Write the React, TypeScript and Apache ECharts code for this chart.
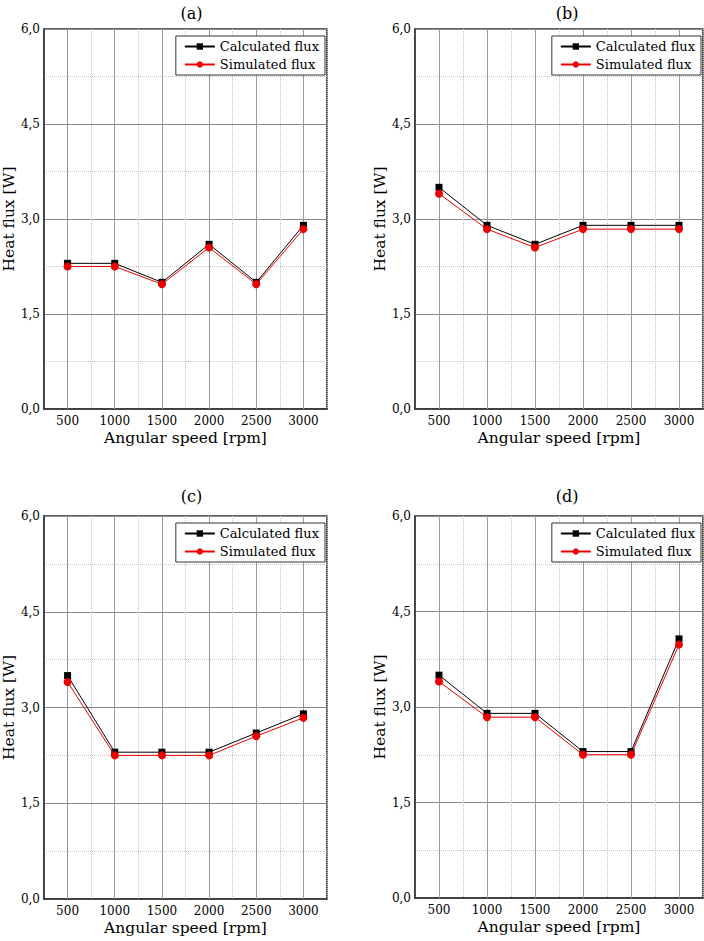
import React, { useEffect, useRef } from "react";
import * as echarts from "echarts";

const speeds = ["500", "1000", "1500", "2000", "2500", "3000"];
const panelTitles = ["(a)", "(b)", "(c)", "(d)"];

const calcA = [2.3, 2.3, 2.0, 2.6, 2.0, 2.9];
const simA = [2.25, 2.25, 1.97, 2.55, 1.97, 2.84];
const calcB = [3.5, 2.9, 2.6, 2.9, 2.9, 2.9];
const simB = [3.4, 2.84, 2.55, 2.84, 2.84, 2.84];
const calcC = [3.5, 2.3, 2.3, 2.3, 2.6, 2.9];
const simC = [3.4, 2.25, 2.25, 2.25, 2.55, 2.84];
const calcD = [3.5, 2.9, 2.9, 2.3, 2.3, 4.07];
const simD = [3.4, 2.84, 2.84, 2.25, 2.25, 3.98];

const calcSets = [calcA, calcB, calcC, calcD];
const simSets = [simA, simB, simC, simD];

const FONT = "DejaVu Serif";

const grids = [
  { left: 40, top: 29, width: 287, height: 380 },
  { left: 415, top: 29, width: 288, height: 380 },
  { left: 40, top: 516, width: 287, height: 383 },
  { left: 415, top: 516, width: 288, height: 382 },
];
const titleTops = [0, 0, 483, 483];

export default function App() {
  const ref = useRef<HTMLDivElement>(null);
  useEffect(() => {
    if (!ref.current) return;
    const chart = echarts.init(ref.current, null, { renderer: "svg" });
    const xAxis: any[] = [];
    const yAxis: any[] = [];
    const series: any[] = [];
    const legend: any[] = [];
    const title: any[] = [];
    grids.forEach((g, i) => {
      xAxis.push({
        type: "category",
        gridIndex: i,
        data: speeds,
        boundaryGap: true,
        axisLine: { show: true, lineStyle: { color: "#333", width: 1.5 } },
        axisTick: { show: false },
        axisLabel: { fontFamily: FONT, fontSize: 12, color: "#000", margin: 6 },
        splitLine: { show: true, lineStyle: { color: "#c4c4c4", type: "dotted", width: 1 } },
        name: "Angular speed [rpm]",
        nameLocation: "middle",
        nameGap: 21,
        nameTextStyle: { fontFamily: FONT, fontSize: 15.5, color: "#000" },
      });
      yAxis.push({
        type: "value",
        gridIndex: i,
        min: 0,
        max: 6,
        interval: 1.5,
        axisLine: { show: true, lineStyle: { color: "#333", width: 1.5 } },
        axisTick: { show: false },
        axisLabel: {
          fontFamily: FONT,
          fontSize: 12,
          color: "#000",
          margin: 4,
          formatter: (v: number) => v.toFixed(1).replace(".", ","),
        },
        splitLine: { show: true, lineStyle: { color: "#8a8a8a", width: 1 } },
        minorTick: { show: false, splitNumber: 2 },
        minorSplitLine: { show: true, lineStyle: { color: "#c4c4c4", type: "dotted", width: 1 } },
        name: "Heat flux [W]",
        nameLocation: "middle",
        nameGap: 20,
        nameTextStyle: { fontFamily: FONT, fontSize: 15.5, color: "#000" },
      });
      series.push({
        name: "Calculated flux",
        type: "line",
        xAxisIndex: i,
        yAxisIndex: i,
        data: calcSets[i],
        symbol: "rect",
        symbolSize: 7,
        itemStyle: { color: "#000" },
        lineStyle: { color: "#000", width: 1 },
        z: 3,
        markLine: {
          silent: true,
          z: 1,
          symbol: ["none", "none"],
          label: { show: false },
          lineStyle: { color: "#999", type: "solid", width: 1 },
          data: speeds.map((s) => ({ xAxis: s })),
        },
      });
      series.push({
        name: "Simulated flux",
        type: "line",
        xAxisIndex: i,
        yAxisIndex: i,
        data: simSets[i],
        symbol: "circle",
        symbolSize: 8,
        itemStyle: { color: "#ee0000" },
        lineStyle: { color: "#ee0000", width: 1 },
        z: 4,
      });
      legend.push({
        orient: "vertical",
        right: 704 - (g.left + g.width) + 2,
        top: g.top + 7,
        itemWidth: 30,
        itemHeight: 8,
        itemGap: 5,
        padding: [4, 6, 4, 8],
        borderColor: "#333",
        borderWidth: 1,
        backgroundColor: "#fff",
        textStyle: { fontFamily: FONT, fontSize: 13, color: "#000" },
        data: ["Calculated flux", "Simulated flux"],
      });
      title.push({
        text: panelTitles[i],
        left: g.left + g.width / 2 + 3,
        textAlign: "center",
        top: titleTops[i],
        textStyle: { fontFamily: FONT, fontSize: 16, fontWeight: "normal", color: "#000" },
      });
    });
    chart.setOption({
      animation: false,
      backgroundColor: "#fff",
      title,
      legend,
      grid: grids.map((g) => ({
        ...g,
        show: true,
        borderColor: "#333",
        borderWidth: 1.5,
        backgroundColor: "transparent",
      })),
      xAxis,
      yAxis,
      series,
    });
    return () => chart.dispose();
  }, []);
  return (
    <div
      ref={ref}
      style={{ position: "absolute", left: 0, top: 0, width: 704, height: 941 }}
    />
  );
}
